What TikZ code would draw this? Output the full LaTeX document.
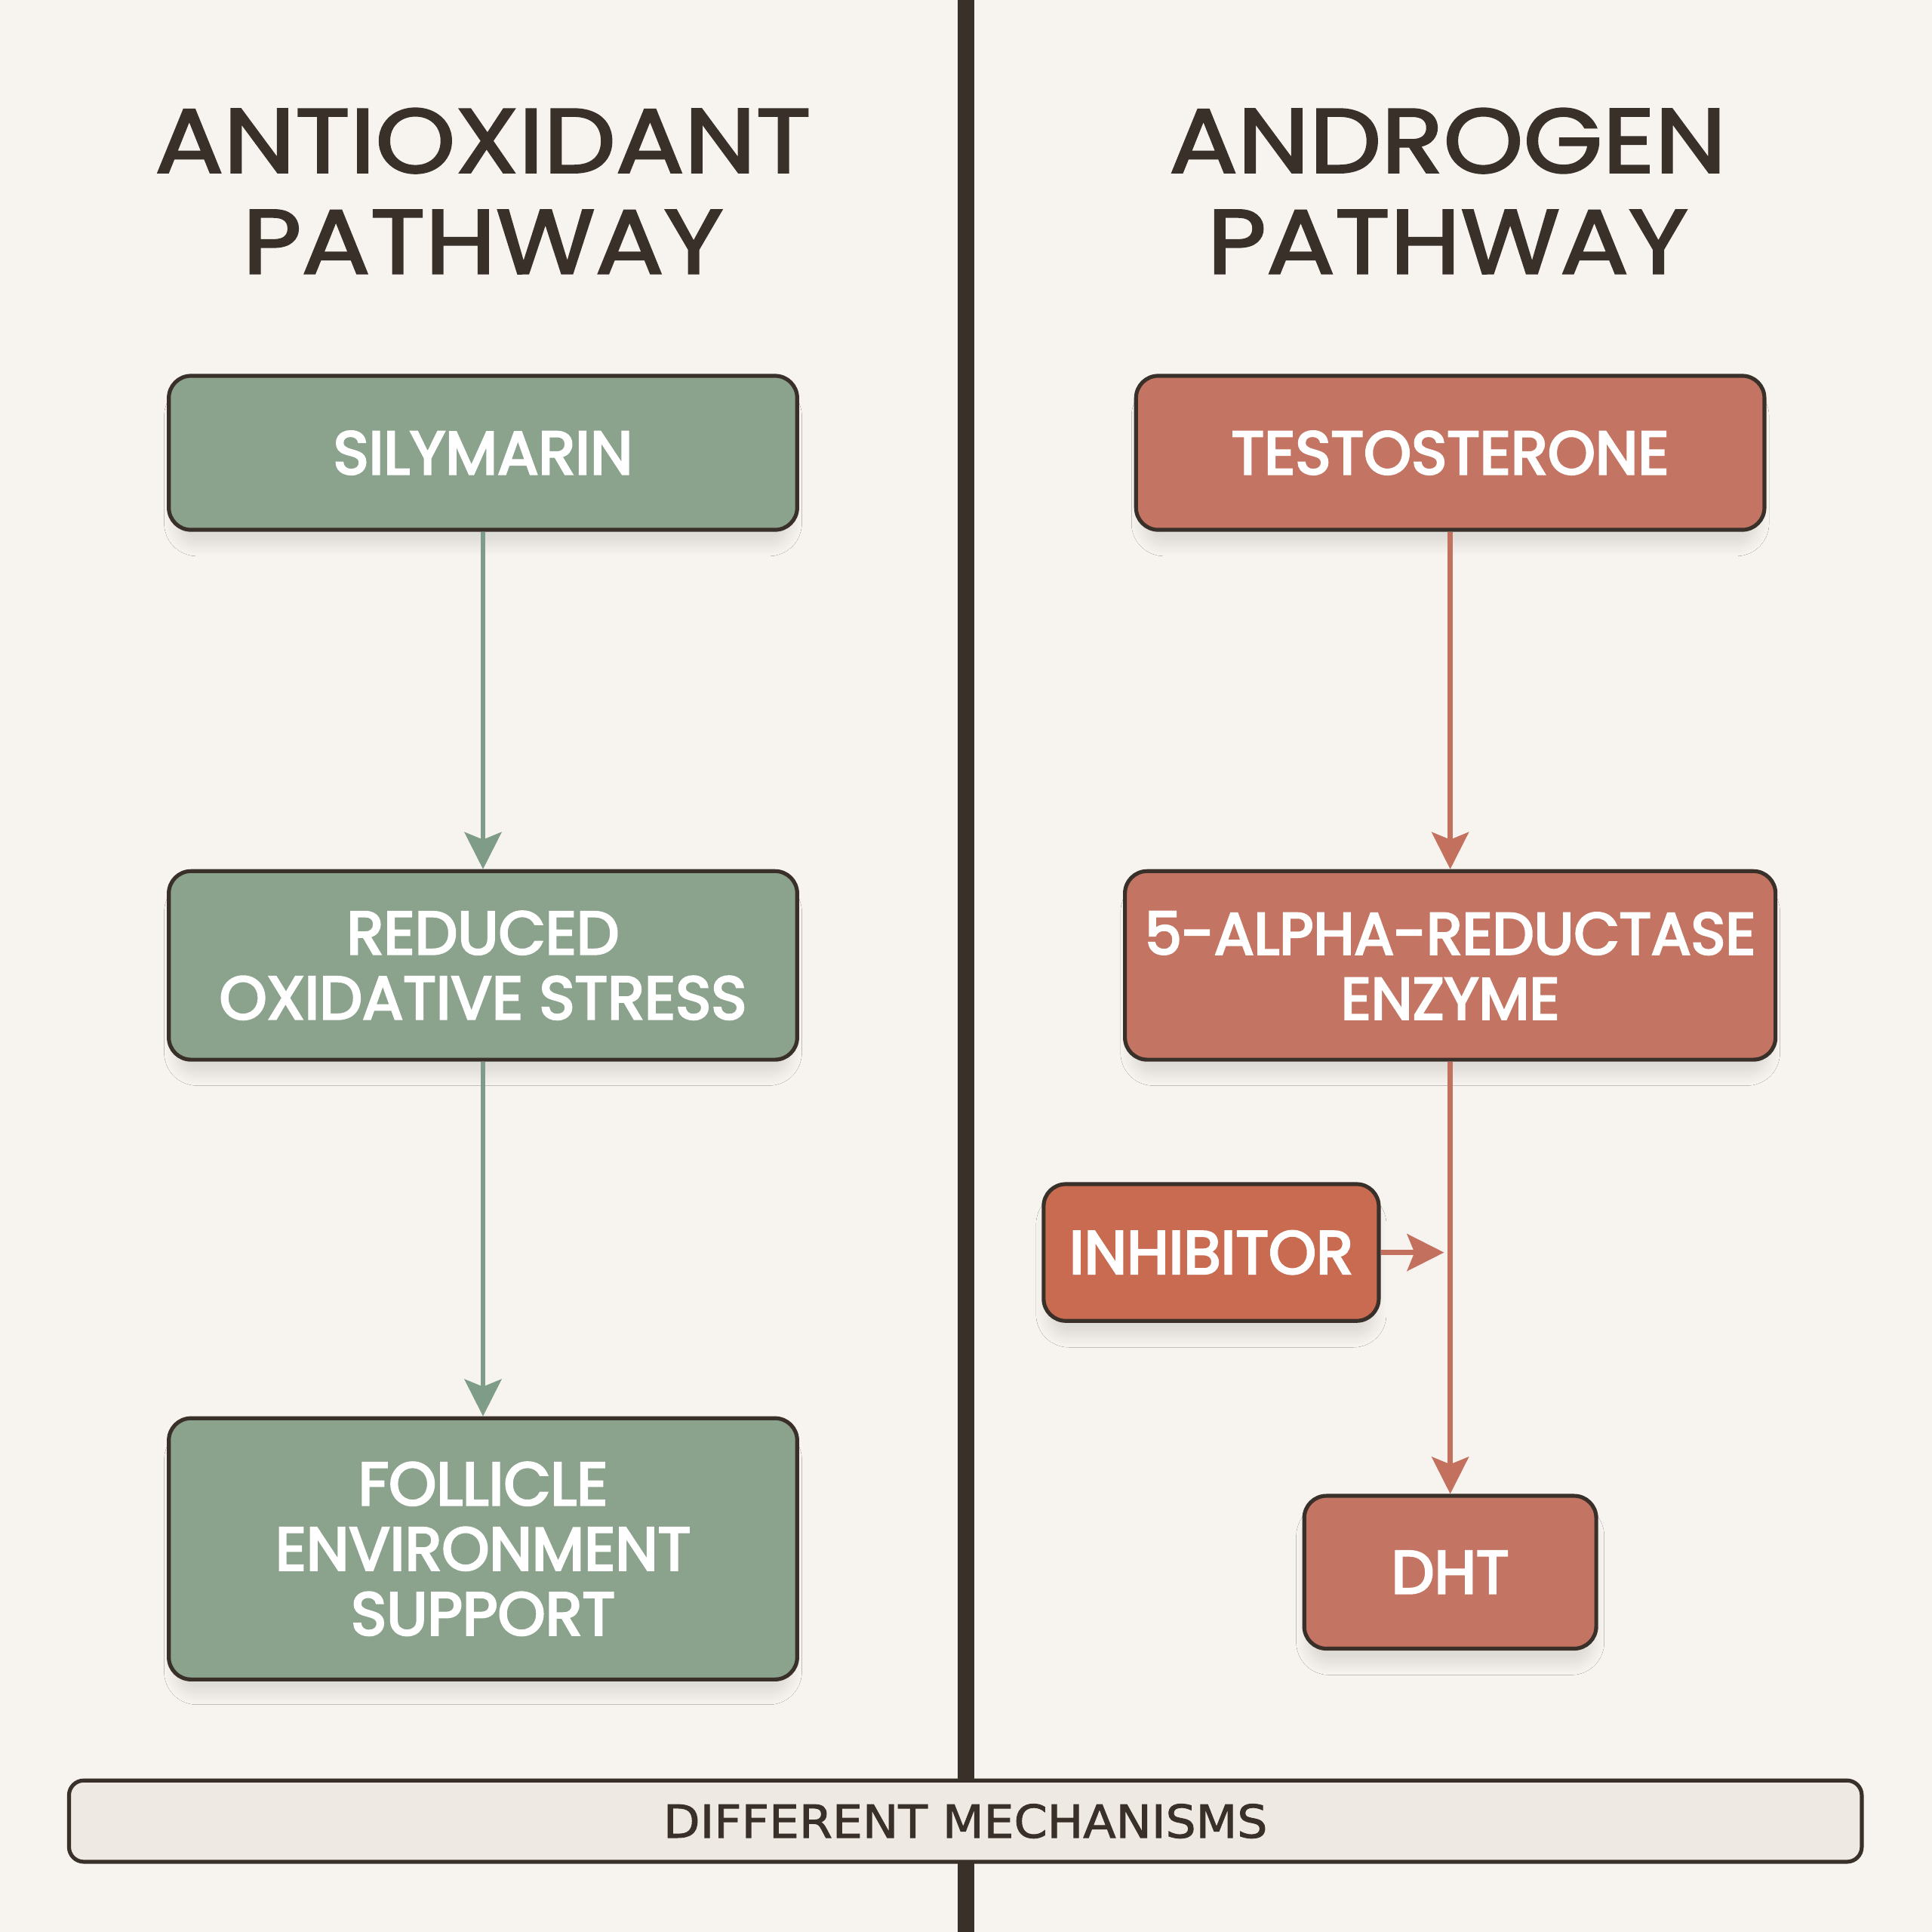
\documentclass[tikz,border=0pt]{standalone}
\usepackage{fontspec}
\setmainfont{Poppins}
\newfontfamily\titlefont{Poppins}[FakeStretch=1.12, FakeBold=2.2]
\newfontfamily\boxfont{Poppins}[FakeBold=3.5]
\newfontfamily\barfont{DejaVu Sans}[FakeStretch=1.05, FakeBold=1.6]
\usetikzlibrary{positioning, arrows.meta, shadows.blur}

\definecolor{paper}{HTML}{F7F4EF}
\definecolor{ink}{HTML}{3A302A}
\definecolor{sage}{HTML}{8BA28C}
\definecolor{sageline}{HTML}{7E9C87}
\definecolor{clay}{HTML}{C47462}
\definecolor{clayhot}{HTML}{C96B51}
\definecolor{clayline}{HTML}{C4705F}
\definecolor{barfill}{HTML}{EFE9E3}

\begin{document}
\begin{tikzpicture}[x=0.1mm, y=-0.1mm]
  \tikzset{
    title/.style={text=ink, align=center, font=\titlefont\fontsize{21}{23.3}\selectfont},
    box/.style={draw=ink, line width=0.9pt, rounded corners=1.8mm, text=white, align=center,
      font=\boxfont\fontsize{14}{15}\selectfont,
      blur shadow={shadow xshift=0mm, shadow yshift=-1.4mm, shadow scale=0.98, shadow blur radius=0.9mm, shadow blur steps=8, shadow opacity=10}},
    green/.style={box, fill=sage},
    red/.style={box, fill=clay},
    garrow/.style={draw=sageline, line width=1.1pt, -{Stealth[length=3mm, width=3mm, inset=0.6mm]}},
    rarrow/.style={draw=clayline, line width=1.1pt, -{Stealth[length=3mm, width=3mm, inset=0.6mm]}}
  }

  % Achtergrond en scheidslijn
  \fill[paper] (0,0) rectangle (1568,1568);
  \useasboundingbox (0,0) rectangle (1568,1568);
  \fill[ink] (777,0) rectangle (791,1568);

  % Koppen
  \node[title] (tl) at (392,155) {ANTIOXIDANT\\PATHWAY};
  \node[title] (tr) at (1175,155) {ANDROGEN\\PATHWAY};

  % --- antioxidant ---
  \node[green, minimum width=51mm, minimum height=12.5mm] (sil) at (392,367.5) {SILYMARIN};
  \node[green, minimum width=51mm, minimum height=15.3mm] (ros) at (392,783.5) {REDUCED\\OXIDATIVE STRESS};
  \node[green, minimum width=51mm, minimum height=21.2mm] (fes) at (392,1257) {FOLLICLE\\ENVIRONMENT\\SUPPORT};
  \draw[garrow] (sil) -- (ros);
  \draw[garrow] (ros) -- (fes);

  % --- androgeen ---
  \node[red, minimum width=51mm, minimum height=12.5mm] (tes) at (1177,367.5) {TESTOSTERONE};
  \node[red, minimum width=52.8mm, minimum height=15.3mm, font=\boxfont\fontsize{13.6}{15}\selectfont] (enz) at (1177,783.5) {5-ALPHA-REDUCTASE\\ENZYME};
  \node[red, fill=clayhot, minimum width=27.2mm, minimum height=11.1mm] (inh) at (983,1016.5) {INHIBITOR};
  \node[red, minimum width=23.7mm, minimum height=12.4mm] (dht) at (1177,1276) {DHT};
  \draw[rarrow] (tes) -- (enz);
  \draw[rarrow] (enz) -- (dht);
  \draw[rarrow] (inh) -- ([xshift=-0.5mm]inh -| enz.south);

  % Balk onderaan
  \node[draw=ink, line width=0.9pt, fill=barfill, rounded corners=1.2mm, minimum width=145.5mm,
    minimum height=6.6mm, text=ink, font=\barfont\fontsize{10.5}{12}\selectfont] (mech) at (783.5,1478) {DIFFERENT MECHANISMS};
\end{tikzpicture}
\end{document}
